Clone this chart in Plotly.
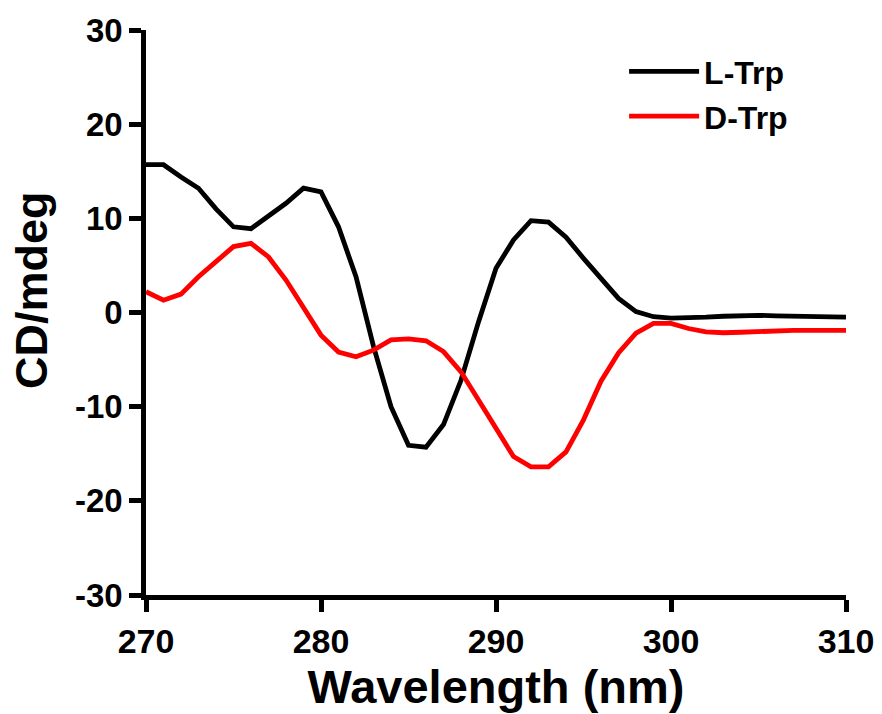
import plotly.graph_objects as go

wavelength = list(range(270, 311))
l_trp = [15.7, 15.7, 14.4, 13.2, 11.0, 9.1, 8.9, 10.2, 11.6, 13.2,
         12.8, 9.1, 3.8, -3.6, -10.0, -14.1, -14.3, -11.9, -7.2, -1.0,
         4.7, 7.7, 9.75, 9.6, 8.0, 5.75, 3.65, 1.5, 0.1, -0.45,
         -0.6, -0.6, -0.5, -0.4, -0.3, -0.3, -0.35, -0.4, -0.5, -0.55, -0.5]
d_trp = [2.2, 1.3, 1.95, 3.8, 5.4, 7.0, 7.35, 5.9, 3.45, 0.45,
         -2.4, -4.2, -4.7, -4.0, -2.9, -2.8, -3.0, -4.15, -6.3, -9.3,
         -12.3, -15.3, -16.4, -16.4, -14.8, -11.4, -7.3, -4.3, -2.2, -1.15,
         -1.15, -1.7, -2.05, -2.15, -2.1, -2.0, -1.9, -1.9, -1.9, -1.95, -1.9]

x_ticks = [270, 280, 290, 300, 310]
y_ticks = [-30, -20, -10, 0, 10, 20, 30]

FONT = "Liberation Sans, Arial, sans-serif"

fig = go.Figure()
fig.add_trace(go.Scatter(x=wavelength, y=l_trp, mode="lines", name="<b>L-Trp</b>",
                         line=dict(color="black", width=4.8)))
fig.add_trace(go.Scatter(x=wavelength, y=d_trp, mode="lines", name="<b>D-Trp</b>",
                         line=dict(color="#ff0000", width=4.8)))

fig.update_layout(
    width=882, height=714,
    margin=dict(l=146, r=36, t=30, b=119),
    plot_bgcolor="white", paper_bgcolor="white",
    font=dict(family=FONT, color="black"),
    showlegend=True,
    legend=dict(x=0.683, y=0.975, xanchor="left", yanchor="top",
                font=dict(size=32, family=FONT, color="black"),
                itemwidth=70, tracegroupgap=0, bgcolor="rgba(0,0,0,0)"),
    xaxis=dict(range=[270, 310], tickvals=x_ticks,
               ticktext=[f"<b>{v}</b>" for v in x_ticks], automargin=False,
               showgrid=False, zeroline=False, showline=True, linecolor="black", linewidth=4.5,
               ticks="outside", ticklen=12, tickwidth=4.5, tickcolor="black",
               tickfont=dict(size=34, family=FONT, color="black"),
               title=dict(text="<b>Wavelength (nm)</b>", font=dict(size=47, family=FONT), standoff=8)),
    yaxis=dict(range=[-30, 30], tickvals=y_ticks,
               ticktext=[f"<b>{v}</b>" for v in y_ticks], automargin=False,
               showgrid=False, zeroline=False, showline=True, linecolor="black", linewidth=4.5,
               ticks="outside", ticklen=12, tickwidth=4.5, tickcolor="black",
               tickfont=dict(size=33, family=FONT, color="black")),
    annotations=[dict(text="<b>CD/mdeg</b>", textangle=-90, xref="paper", yref="paper",
                      x=0, y=0.54, xshift=-114, xanchor="center", yanchor="middle",
                      showarrow=False, font=dict(size=45, family=FONT, color="black"))],
)

fig.write_html("out.html")
